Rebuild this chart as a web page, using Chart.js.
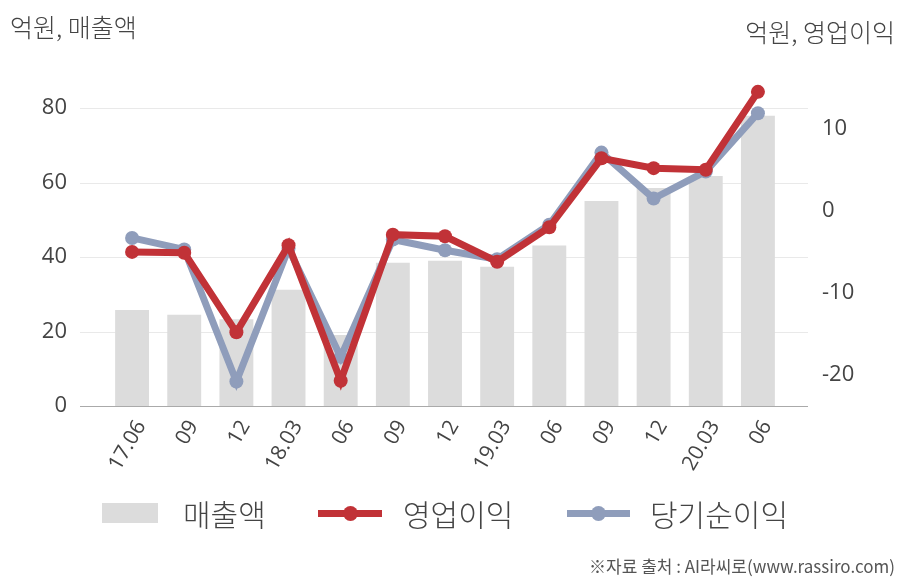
<!DOCTYPE html>
<html>
<head>
<meta charset="utf-8">
<script src="https://cdn.jsdelivr.net/npm/chart.js@4"></script>
<style>
  body { margin: 0; background: #fff; }
  #wrap { position: relative; width: 908px; height: 580px; font-family: "Open Sans", "Noto Sans CJK KR", sans-serif; color: #444; }
  canvas { position: absolute; left: 0; top: 0; }
  .unit { position: absolute; font-family: "Noto Sans CJK KR", sans-serif; font-size: 25px; font-weight: 300; color: #444; }
  .legend { position: absolute; top: 492px; height: 42px; display: flex; align-items: center; font-family: "Noto Sans CJK KR", sans-serif; font-size: 30px; font-weight: 300; color: #444; }
  .src { position: absolute; right: 13px; top: 553px; font-family: "Noto Sans CJK KR", sans-serif; font-size: 17px; color: #555; }
</style>
</head>
<body>
<div id="wrap">
  <canvas id="chart" width="908" height="580"></canvas>
  <div class="unit" style="left:10px; top:8px;">억원, 매출액</div>
  <div class="unit" style="right:13px; top:13px;">억원, 영업이익</div>
  <div id="legend"></div>
  <div class="src">※자료 출처 : AI라씨로(www.rassiro.com)</div>
</div>
<script>
var labels = ["17.06", "09", "12", "18.03", "06", "09", "12", "19.03", "06", "09", "12", "20.03", "06"];
var sales = [25.8, 24.5, 23.3, 31.2, 19.1, 38.5, 39.0, 37.4, 43.1, 55.1, 58.6, 61.8, 78.0];
var opProfit = [-5.0, -5.1, -14.8, -4.2, -20.7, -2.9, -3.1, -6.2, -2.0, 6.4, 5.2, 5.0, 14.5];
var netProfit = [-3.3, -4.7, -20.8, -4.6, -17.8, -3.5, -4.8, -5.9, -1.7, 7.1, 1.5, 4.8, 11.9];
var leftTicks = [0, 20, 40, 60, 80];
var rightTicks = [-20, -10, 0, 10];

var gridColor = '#e9e9e9';
var red = 'rgb(193, 50, 55)';
var blue = 'rgb(143, 157, 187)';
var barGray = '#dcdcdc';

// horizontal grid and base line are wider than the category band
var gridPlugin = {
  id: 'wideGrid',
  beforeDatasetsDraw: function (chart) {
    var c = chart.ctx, y = chart.scales.y, area = chart.chartArea;
    c.save();
    c.lineWidth = 1;
    leftTicks.forEach(function (v) {
      var py = Math.round(y.getPixelForValue(v)) + 0.5;
      c.strokeStyle = v === 0 ? '#aaaaaa' : gridColor;
      c.beginPath();
      c.moveTo(area.left - 26, py);
      c.lineTo(area.right + 24, py);
      c.stroke();
    });
    c.restore();
  }
};

var ctx = document.getElementById('chart');

new Chart(ctx, {
  data: {
    labels: labels,
    datasets: [{
      type: 'line',
      label: '영업이익',
      data: opProfit,
      yAxisID: 'y1',
      borderColor: red,
      backgroundColor: red,
      borderWidth: 7,
      pointRadius: 7,
      pointBackgroundColor: red,
      pointBorderWidth: 0,
      tension: 0,
      order: 1
    }, {
      type: 'line',
      label: '당기순이익',
      data: netProfit,
      yAxisID: 'y1',
      borderColor: blue,
      backgroundColor: blue,
      borderWidth: 7,
      pointRadius: 7,
      pointBackgroundColor: blue,
      pointBorderWidth: 0,
      tension: 0,
      order: 2
    }, {
      type: 'bar',
      label: '매출액',
      data: sales,
      yAxisID: 'y',
      backgroundColor: barGray,
      categoryPercentage: 0.65,
      barPercentage: 1,
      order: 3
    }]
  },
  options: {
    responsive: false,
    animation: false,
    layout: { padding: { top: 71, bottom: 94, left: 0, right: 0 } },
    plugins: { legend: { display: false }, tooltip: { enabled: false } },
    scales: {
      x: {
        grid: { display: false },
        border: { display: false },
        ticks: {
          color: '#444',
          font: { family: 'Open Sans', size: 21 },
          minRotation: 60,
          maxRotation: 60,
          padding: 2,
          labelOffset: 9,
          autoSkip: false
        },
        afterFit: function (s) { s.height = 80; }
      },
      y: {
        position: 'left',
        min: 0,
        max: 90,
        grid: { display: false },
        border: { display: false },
        afterBuildTicks: function (s) { s.ticks = leftTicks.map(function (v) { return { value: v }; }); },
        ticks: { color: '#444', font: { family: 'Open Sans', size: 22 }, padding: 31 },
        afterFit: function (s) { s.width = 106; }
      },
      y1: {
        position: 'right',
        min: -23.78,
        max: 17.04,
        grid: { display: false },
        border: { display: false },
        afterBuildTicks: function (s) { s.ticks = rightTicks.map(function (v) { return { value: v }; }); },
        ticks: { color: '#444', font: { family: 'Open Sans', size: 22 }, padding: 30 },
        afterFit: function (s) { s.width = 124; }
      }
    }
  },
  plugins: [gridPlugin]
});

// legend
var legend = document.getElementById('legend');
legend.innerHTML =
  '<div class="legend" style="left:102px;"><span style="display:inline-block;width:56px;height:20px;background:' + barGray + ';margin-right:25px;"></span>매출액</div>' +
  '<div class="legend" style="left:318px;"><span style="position:relative;display:inline-block;width:64px;height:7px;background:' + red + ';margin-right:21px;"><span style="position:absolute;left:25px;top:-4px;width:15px;height:15px;border-radius:50%;background:' + red + ';"></span></span>영업이익</div>' +
  '<div class="legend" style="left:567px;"><span style="position:relative;display:inline-block;width:63px;height:7px;background:' + blue + ';margin-right:20px;"><span style="position:absolute;left:24px;top:-4px;width:15px;height:15px;border-radius:50%;background:' + blue + ';"></span></span>당기순이익</div>';
</script>
</body>
</html>
